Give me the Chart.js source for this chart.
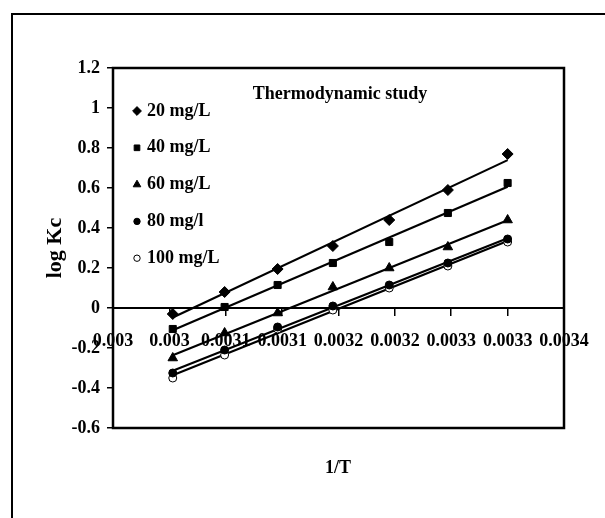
<!DOCTYPE html>
<html>
<head>
<meta charset="utf-8">
<script src="https://cdn.jsdelivr.net/npm/chart.js@4"></script>
<style>
  body { margin: 0; background: #fff; }
  #wrap { width: 605px; height: 518px; position: relative; }
</style>
</head>
<body>
<div id="wrap"><canvas id="kcChart"></canvas></div>
<script>
// 1/T values (T = 333 ... 303 K)
const invT = [0.003003, 0.003049, 0.003096, 0.003145, 0.003195, 0.003247, 0.0033];

const seriesNames = ['20 mg/L', '40 mg/L', '60 mg/L', '80 mg/l', '100 mg/L'];
const logKc20 = [-0.03, 0.08, 0.195, 0.31, 0.44, 0.59, 0.77];
const logKc40 = [-0.105, 0.005, 0.115, 0.225, 0.33, 0.475, 0.625];
const logKc60 = [-0.25, -0.125, -0.025, 0.105, 0.2, 0.305, 0.44];
const logKc80 = [-0.325, -0.21, -0.095, 0.01, 0.115, 0.225, 0.345];
const logKc100 = [-0.35, -0.235, -0.105, -0.01, 0.1, 0.21, 0.33];

const xTicks = [0.00295, 0.003, 0.00305, 0.0031, 0.00315, 0.0032, 0.00325, 0.0033, 0.00335];
const xTickLabels = ['0.003', '0.003', '0.0031', '0.0031', '0.0032', '0.0032', '0.0033', '0.0033', '0.0034'];
const yTicks = [-0.6, -0.4, -0.2, 0, 0.2, 0.4, 0.6, 0.8, 1, 1.2];
const yTickLabels = ['-0.6', '-0.4', '-0.2', '0', '0.2', '0.4', '0.6', '0.8', '1', '1.2'];

const FONT = '"Liberation Serif", "Times New Roman", serif';

// least squares line between first and last x, like an Excel linear trendline
function fitLine(xs, ys) {
  const n = xs.length;
  const mx = xs.reduce((a, b) => a + b, 0) / n;
  const my = ys.reduce((a, b) => a + b, 0) / n;
  let sxy = 0, sxx = 0;
  xs.forEach((x, i) => {
    sxy += (x - mx) * (ys[i] - my);
    sxx += (x - mx) * (x - mx);
  });
  const m = sxy / sxx;
  const b = my - m * mx;
  return [xs[0], xs[n - 1]].map(x => ({ x: x, y: m * x + b }));
}

const allSeries = [logKc20, logKc40, logKc60, logKc80, logKc100];
const markerStyles = [
  { pointStyle: 'rectRot', pointRadius: 5.5, pointBackgroundColor: '#000' },
  { pointStyle: 'rect', pointRadius: 5, pointBackgroundColor: '#000' },
  { pointStyle: 'triangle', pointRadius: 5.5, pointBackgroundColor: '#000' },
  { pointStyle: 'circle', pointRadius: 4, pointBackgroundColor: '#000' },
  { pointStyle: 'circle', pointRadius: 4, pointBackgroundColor: '#fff' }
];

const datasets = [];
allSeries.forEach((vals, i) => {
  datasets.push(Object.assign({
    label: seriesNames[i],
    data: invT.map((x, j) => ({ x: x, y: vals[j] })),
    showLine: false,
    pointBorderColor: '#000',
    pointBorderWidth: 1,
    order: 0
  }, markerStyles[i]));
});
allSeries.forEach(vals => {
  datasets.push({
    label: '',
    trend: true,
    data: fitLine(invT, vals),
    showLine: true,
    borderColor: '#000',
    borderWidth: 2.2,
    pointRadius: 0,
    order: 1
  });
});

const frame = {
  id: 'frame',
  beforeDraw(chart) {
    const ctx = chart.ctx;
    ctx.save();
    ctx.fillStyle = '#fff';
    ctx.fillRect(0, 0, chart.width, chart.height);
    ctx.strokeStyle = '#000';
    ctx.lineWidth = 2;
    ctx.strokeRect(12, 14, chart.width + 20, chart.height + 20);
    ctx.restore();
  },
  beforeDatasetsDraw(chart) {
    const a = chart.chartArea;
    const ctx = chart.ctx;
    ctx.save();
    ctx.strokeStyle = '#000';
    ctx.lineWidth = 2.5;
    ctx.strokeRect(a.left, a.top, a.right - a.left, a.bottom - a.top);
    ctx.restore();
  },
  afterDatasetsDraw(chart) {
    const a = chart.chartArea;
    const ctx = chart.ctx;
    ctx.save();
    ctx.fillStyle = '#000';
    ctx.textBaseline = 'middle';
    ctx.font = 'bold 18px ' + FONT;
    ctx.textAlign = 'center';
    ctx.fillText('Thermodynamic study', 340, 94);
    ctx.fillText('1/T', 338, 468);

    ctx.textAlign = 'left';
    chart.data.datasets.filter(d => !d.trend).forEach((d, i) => {
      const y = a.top + 43 + i * 36.8;
      ctx.fillStyle = d.pointBackgroundColor;
      ctx.strokeStyle = '#000';
      ctx.lineWidth = 1;
      Chart.helpers.drawPoint(ctx, {
        pointStyle: d.pointStyle, rotation: 0,
        radius: d.pointRadius * 0.8, borderWidth: 1
      }, a.left + 24, y);
      ctx.fillStyle = '#000';
      ctx.fillText(d.label, a.left + 34, y);
    });
    ctx.restore();
  }
};

new Chart(document.getElementById('kcChart'), {
  type: 'scatter',
  data: { datasets: datasets },
  plugins: [frame],
  options: {
    responsive: true,
    maintainAspectRatio: false,
    animation: false,
    layout: { padding: { top: 68, right: 41, bottom: 90, left: 0 } },
    plugins: {
      legend: { display: false },
      tooltip: { enabled: false }
    },
    scales: {
      x: {
        type: 'linear',
        position: { y: 0 },
        min: 0.00295,
        max: 0.00335,
        afterBuildTicks: s => { s.ticks = xTicks.map(v => ({ value: v })); },
        ticks: {
          callback: (v, i) => xTickLabels[i],
          autoSkip: false,
          maxRotation: 0,
          padding: 16,
          color: '#000',
          font: { family: FONT, size: 18, weight: 'bold' }
        },
        grid: { drawOnChartArea: false, tickLength: 7, color: '#000', lineWidth: 1.5 },
        border: { color: '#000', width: 2 }
      },
      y: {
        min: -0.6,
        max: 1.2,
        afterBuildTicks: s => { s.ticks = yTicks.map(v => ({ value: v })); },
        afterFit: s => { s.width = 113; },
        ticks: {
          callback: (v, i) => yTickLabels[i],
          padding: 7,
          color: '#000',
          font: { family: FONT, size: 18, weight: 'bold' }
        },
        grid: { drawOnChartArea: false, tickLength: 6, color: '#000', lineWidth: 1.5 },
        border: { color: '#000', width: 2 },
        title: {
          display: true,
          text: 'log Kc',
          color: '#000',
          font: { family: FONT, size: 22, weight: 'bold' },
          padding: { top: 42, bottom: 0 }
        }
      }
    }
  }
});
</script>
</body>
</html>
